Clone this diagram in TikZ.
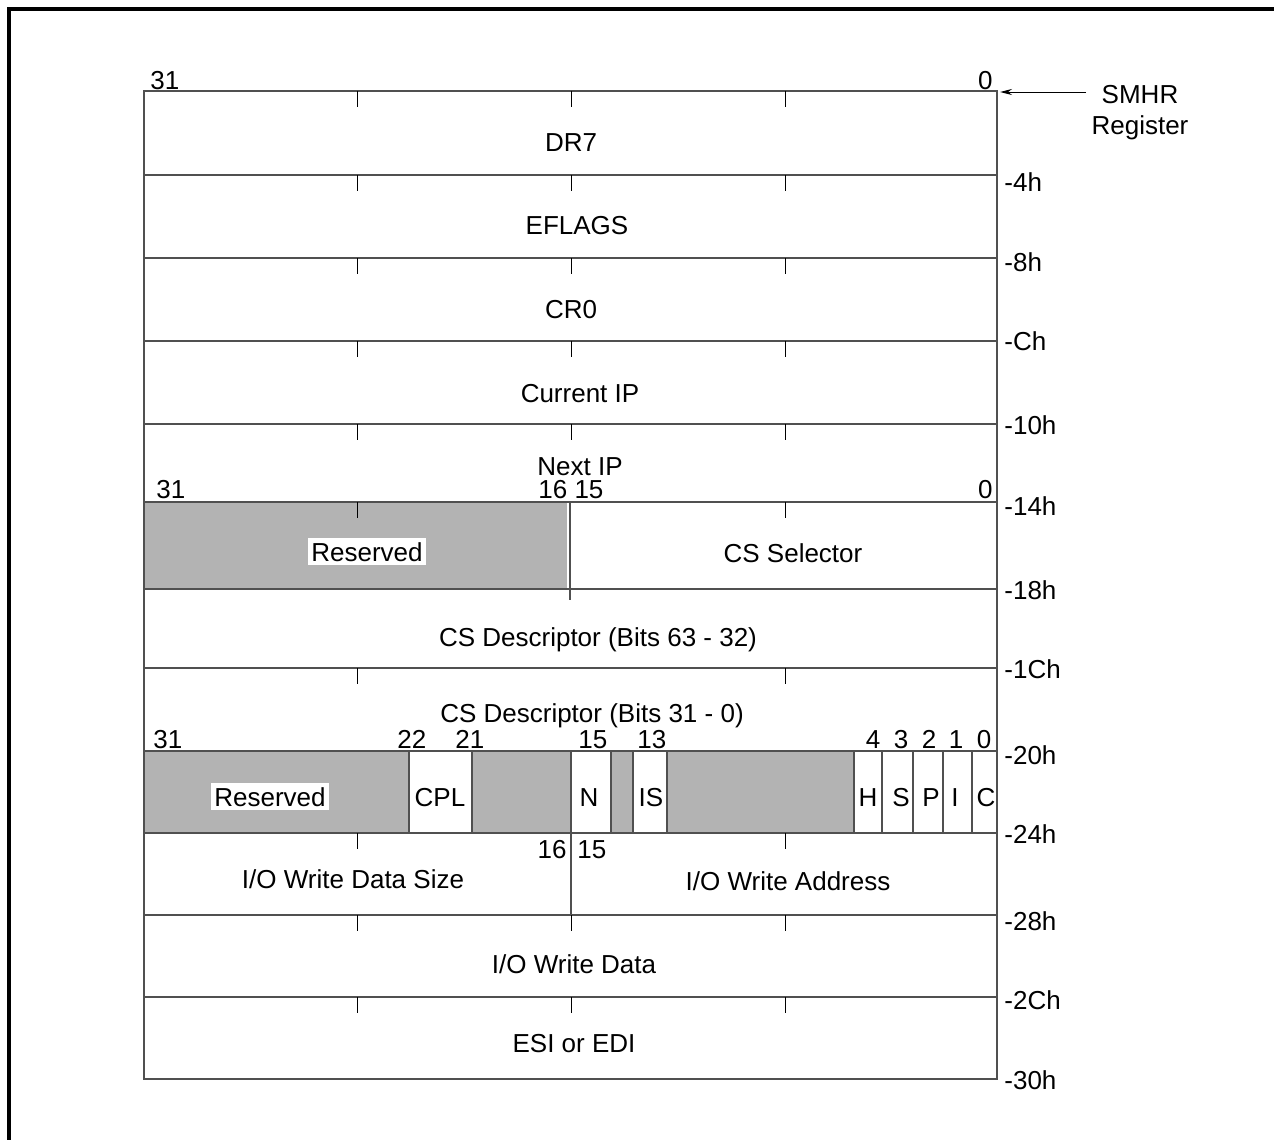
\documentclass[tikz,border=0pt]{standalone}
\usepackage{fontspec}
\setmainfont{Liberation Sans}
\usetikzlibrary{arrows.meta}
\definecolor{resgray}{RGB}{179,179,179}
\definecolor{linegray}{RGB}{80,80,80}
\begin{document}
\begin{tikzpicture}[x=0.5pt,y=-0.5pt,
  font=\fontsize{13}{15}\selectfont,
  rowline/.style={draw=linegray, line width=0.7pt},
  tickmark/.style={draw=black, line width=0.5pt},
  lbl/.style={inner sep=0pt, anchor=base},
  offs/.style={inner sep=0pt, anchor=west},
  cellbox/.style={draw=linegray, line width=0.6pt, fill=white},
  resfill/.style={fill=resgray, draw=none},
  whitelbl/.style={inner xsep=1.5pt, inner ysep=2pt, fill=white, anchor=base}]
\useasboundingbox (0,0) rectangle (1274,1140);
% outer frame
\draw[line width=1.6pt] (9,1140) -- (9,9) -- (1274,9);

% gray fills
\fill[resfill] (144,502) rectangle (567,588);
\fill[resfill] (144,751) rectangle (409,833);
\fill[resfill] (472,751) rectangle (571,833);
\fill[resfill] (611,751) rectangle (633,833);
\fill[resfill] (667,751) rectangle (854,833);
% flag cells
\foreach \a/\b in {409/472,571/611,633/667,854/882,882/913,913/943,943/972,972/997}
  \draw[cellbox] (\a,751) rectangle (\b,833);

% outer box and row lines
\draw[rowline] (144,91) rectangle (997,1079);
\foreach \y in {175,258,341,424,502,589,668,751,833,915,997}
  \draw[rowline] (144,\y) -- (997,\y);
% dividers
\draw[rowline] (570,502) -- (570,600);
\draw[rowline] (571,833) -- (571,915);

% ticks
\foreach \y in {91,175,258,341,424,915,997}
  \foreach \x in {357,571,785}
    \draw[tickmark] (\x,\y) -- ++(0,16);
\foreach \y in {502,668,833}
  \foreach \x in {357,785}
    \draw[tickmark] (\x,\y) -- ++(0,16);

% bit numbers top
\node[lbl, anchor=base west] (b31a) at (150,89) {31};
\node[lbl, anchor=base east] (b0a) at (993,89) {0};

% row labels
\node[lbl] (dr7) at (571,151) {DR7};
\node[lbl] (eflags) at (577,234) {EFLAGS};
\node[lbl] (cr0) at (571,318) {CR0};
\node[lbl] (cip) at (580,402) {Current IP};
\node[lbl] (nip) at (580,475) {Next IP};
\node[lbl, anchor=base west] (b31b) at (156,498) {31};
\node[lbl, anchor=base west] (b1615a) at (538,498) {16 15};
\node[lbl, anchor=base east] (b0b) at (993,498) {0};
\node[whitelbl] (res1) at (367,561) {Reserved};
\node[lbl] (cssel) at (793,562) {CS Selector};
\node[lbl] (csd1) at (598,646) {CS Descriptor (Bits 63 - 32)};
\node[lbl] (csd2) at (592,722) {CS Descriptor (Bits 31 - 0)};

% flag bit numbers
\node[lbl, anchor=base west] (f31) at (153,748) {31};
\node[lbl, anchor=base west] (f22) at (397,748) {22};
\node[lbl, anchor=base west] (f21) at (455,748) {21};
\node[lbl, anchor=base west] (f15) at (578,748) {15};
\node[lbl, anchor=base west] (f13) at (637,748) {13};
\node[lbl] (f4) at (873,748) {4};
\node[lbl] (f3) at (901,748) {3};
\node[lbl] (f2) at (929,748) {2};
\node[lbl] (f1) at (956,748) {1};
\node[lbl] (f0) at (984,748) {0};

% flag cell labels
\node[whitelbl] (res2) at (270,806) {Reserved};
\node[lbl] (cpl) at (440,806) {CPL};
\node[lbl] (nf) at (589,806) {N};
\node[lbl] (isf) at (651,806) {IS};
\node[lbl] (hf) at (868,806) {H};
\node[lbl] (sf) at (901,806) {S};
\node[lbl] (pf) at (931,806) {P};
\node[lbl] (iff) at (955,806) {I};
\node[lbl] (cf) at (986,806) {C};

% lower rows
\node[lbl, anchor=base east] (b16) at (567,858) {16};
\node[lbl, anchor=base west] (b15) at (577,858) {15};
\node[lbl] (iowds) at (353,888) {I/O Write Data Size};
\node[lbl] (iowa) at (788,890) {I/O Write Address};
\node[lbl] (iowd) at (574,973) {I/O Write Data};
\node[lbl] (esi) at (574,1052) {ESI or EDI};

% offsets
\node[offs] (o4) at (1004,182) {-4h};
\node[offs] (o8) at (1004,262) {-8h};
\node[offs] (oC) at (1004,341) {-Ch};
\node[offs] (o10) at (1004,425) {-10h};
\node[offs] (o14) at (1004,506) {-14h};
\node[offs] (o18) at (1004,590) {-18h};
\node[offs] (o1C) at (1004,669) {-1Ch};
\node[offs] (o20) at (1004,755) {-20h};
\node[offs] (o24) at (1004,834) {-24h};
\node[offs] (o28) at (1004,921) {-28h};
\node[offs] (o2C) at (1004,1000) {-2Ch};
\node[offs] (o30) at (1004,1080) {-30h};

% SMHR arrow
\node[lbl] (smhr) at (1140,103) {SMHR};
\node[lbl] (reg) at (1140,134) {Register};
\coordinate (corner) at (1000,92);
\coordinate (astart) at (1086,92);
\draw[line width=0.5pt, -{Stealth[length=6pt,width=3pt]}] (astart) -- (corner);
\end{tikzpicture}
\end{document}
